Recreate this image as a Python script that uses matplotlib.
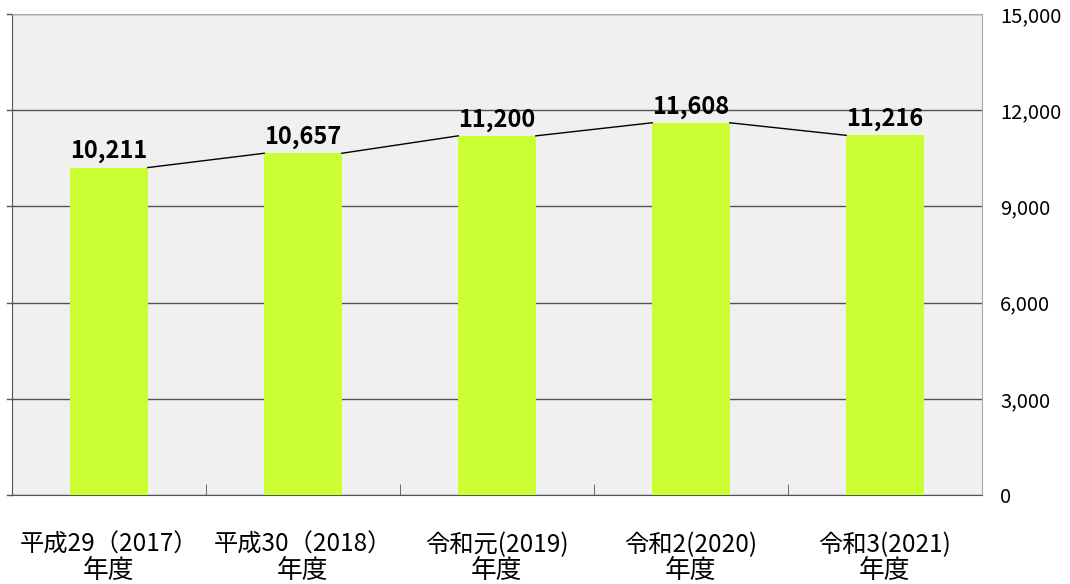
import matplotlib
matplotlib.use('Agg')
import matplotlib.pyplot as plt
import matplotlib.transforms as mtransforms
import numpy as np

plt.rcParams['font.family'] = ['Noto Sans CJK JP', 'DejaVu Sans']

years = ['平成29（2017）', '平成30（2018）', '令和元(2019)', '令和2(2020)', '令和3(2021)']
suffix = '年度'
values = [10211, 10657, 11200, 11608, 11216]
yticks = [0, 3000, 6000, 9000, 12000, 15000]

fig = plt.figure(figsize=(10.7, 5.84), dpi=100)
ax = fig.add_axes([12 / 1070, 1 - 495 / 584, 970 / 1070, 481 / 584])
ax.set_facecolor('#f0f0f0')

x = np.arange(len(values))
w = 0.4
ax.bar(x, values, width=w, color='#ccff33', zorder=3)

# series lines between bar tops
for i in range(len(values) - 1):
    ax.plot([x[i] + w / 2, x[i + 1] - w / 2], [values[i], values[i + 1]],
            color='black', lw=1, zorder=4)

for xi, v in zip(x, values):
    ax.annotate(f'{v:,}', (xi, v), xytext=(0, 3), textcoords='offset points',
                ha='center', va='bottom', fontsize=17, fontweight='bold', zorder=5)

ax.set_xlim(-0.5, len(values) - 0.5)
ax.set_ylim(0, 15000)
ax.set_yticks(yticks)
ax.set_yticklabels([f'{t:,}' for t in yticks], fontsize=14.5)
ax.yaxis.tick_right()
ax.tick_params(axis='y', length=0, pad=13)
ax.grid(axis='y', color='#555555', lw=1, zorder=1)

# left-side outward ticks like the reference
for t in yticks:
    ax.plot([-0.5 - 5 / 194, -0.5], [t, t], color='#555555', lw=1, clip_on=False, zorder=2)

# category labels, two lines
ax.set_xticks(x)
ax.set_xticklabels([])
ax.tick_params(axis='x', length=0)
trans = mtransforms.blended_transform_factory(ax.transData, ax.transAxes)
for xi, lab in zip(x, years):
    ax.text(xi, -50 / 481, lab, transform=trans, ha='center', va='center', fontsize=17.5)
    ax.text(xi, -76 / 481, suffix, transform=trans, ha='center', va='center', fontsize=18.5)

ax.set_xticks(np.arange(0.5, len(values) - 1, 1), minor=True)
ax.tick_params(axis='x', which='minor', direction='in', length=8, color='#555555')

for s in ['top', 'right']:
    ax.spines[s].set_color('#aaaaaa')
ax.spines['left'].set_color('#555555')
ax.spines['bottom'].set_color('#555555')

fig.savefig('out.png', dpi=100)
